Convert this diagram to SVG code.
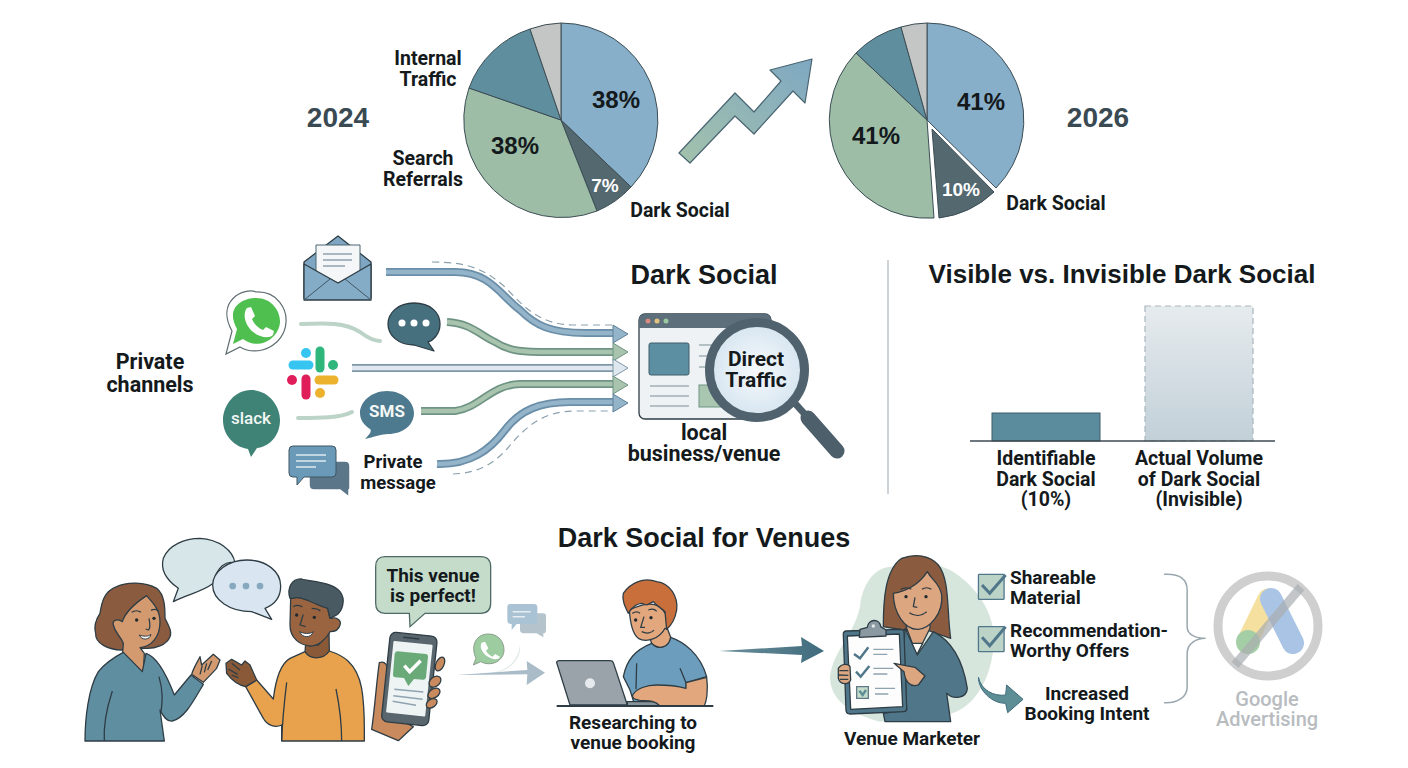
<svg xmlns="http://www.w3.org/2000/svg" width="1408" height="768" viewBox="0 0 1408 768">
<style>
text{font-family:"Roboto","Liberation Sans",sans-serif;font-weight:700;fill:#14191c;text-anchor:middle}
.t{font-family:"Liberation Sans",Arial,sans-serif;font-weight:700;font-size:27px}
.y{font-family:"Liberation Sans",Arial,sans-serif;font-weight:700;font-size:28px;fill:#3a4a52}
.p{font-family:"Liberation Sans",Arial,sans-serif;font-weight:700;font-size:24px}
.l{font-size:19.5px}
.m{font-size:19px}
.ol{stroke:#2e3d45;stroke-width:1.3;stroke-linejoin:round}
.pie{stroke:#3c4d55;stroke-width:1}
.ns *{vector-effect:non-scaling-stroke}
.band{fill:none;stroke-width:8}
.inner{fill:none;stroke-width:4.5}
.dash{fill:none;stroke:#8ba0ad;stroke-width:1.2;stroke-dasharray:7 5}
.faint{fill:none;stroke-width:4;stroke-linecap:round}
.no{fill:none}
.eye{fill:#1f2a30}
</style>
<defs>
<linearGradient id="upG" x1="0" y1="1" x2="1" y2="0"><stop offset="0" stop-color="#a3c2ab"/><stop offset="1" stop-color="#7fa8c2"/></linearGradient>
<linearGradient id="barG" x1="0" y1="0" x2="0" y2="1"><stop offset="0" stop-color="#e6ebee"/><stop offset="1" stop-color="#c2d0d8"/></linearGradient>
<linearGradient id="arrG" x1="0" y1="0" x2="1" y2="0"><stop offset="0" stop-color="#6d8f9c"/><stop offset="1" stop-color="#3f6c7d"/></linearGradient>
<radialGradient id="lens"><stop offset="0" stop-color="#f6f9fc"/><stop offset="1" stop-color="#d6e5f0"/></radialGradient>
</defs>
<rect width="1408" height="768" fill="#fff"/>

<g id="pie-2024">
<path class="pie" fill="#88afc9" d="M561 120L561 23A97 97 0 0 1 631 187Z"/>
<path class="pie" fill="#53686f" d="M561 120L631 187A97 97 0 0 1 597 211Z"/>
<path class="pie" fill="#9dbda6" d="M561 120L597 211A98 98 0 0 1 469 88Z"/>
<path class="pie" fill="#5f8f9f" d="M561 120L469 88A97 97 0 0 1 530 29Z"/>
<path class="pie" fill="#c4c6c6" d="M561 120L530 29A97 97 0 0 1 561 23Z"/>
<text class="y" x="338" y="127">2024</text>
<text class="p" x="616" y="108">38%</text>
<text class="p" x="515" y="154">38%</text>
<text class="p" x="605" y="192" style="fill:#fff;font-size:19px">7%</text>
<text class="l" x="428" y="65">Internal</text><text class="l" x="428" y="86">Traffic</text>
<text class="l" x="423" y="165">Search</text><text class="l" x="423" y="186">Referrals</text>
<text class="l" x="680" y="217">Dark Social</text>
</g>

<g id="growth-arrow">
<path fill="url(#upG)" stroke="#4a6572" stroke-width="1.2" stroke-linejoin="round" d="M679 153L735 93L754 112L781 81L770 70L812 59L805 103L793 91L754 134L735 116L690 163Z"/>
</g>

<g id="pie-2026">
<path class="pie" fill="#88afc9" d="M927 120L927 23A97 97 0 0 1 996 188Z"/>
<path class="pie" fill="#53686f" d="M932 129L994 192A97 97 0 0 1 939 218Z"/>
<path class="pie" fill="#9dbda6" d="M927 120L934 218A98 98 0 0 1 856 53Z"/>
<path class="pie" fill="#5f8f9f" d="M927 120L856 53A97 97 0 0 1 901 27Z"/>
<path class="pie" fill="#c4c6c6" d="M927 120L901 27A97 97 0 0 1 927 23Z"/>
<text class="y" x="1098" y="127">2026</text>
<text class="p" x="981" y="110">41%</text>
<text class="p" x="876" y="144">41%</text>
<text class="p" x="961" y="196" style="fill:#fff;font-size:19px">10%</text>
<text class="l" x="1056" y="210">Dark Social</text>
</g>

<g id="connectors">
<path class="dash" d="M432 262C470 262 485 270 505 287C525 308 540 325 575 325H613"/>
<path class="dash" d="M453 474C480 473 497 462 512 443C528 425 545 411 575 411H613"/>
<path class="band" stroke="#6a8ea8" d="M386 272H455C490 272 500 295 520 310C535 325 550 333 585 333H613"/>
<path class="inner" stroke="#94b4ca" d="M386 272H455C490 272 500 295 520 310C535 325 550 333 585 333H613"/>
<polygon fill="#94b4ca" stroke="#5f8199" points="613,325 628,334 613,343"/>
<path class="band" stroke="#6f9484" d="M447 322C470 323 480 335 495 342C510 352 525 352 550 352H613"/>
<path class="inner" stroke="#a8c4ae" d="M447 322C470 323 480 335 495 342C510 352 525 352 550 352H613"/>
<polygon fill="#a8c4ae" stroke="#6f9484" points="613,343 628,352 613,361"/>
<path class="band" stroke="#7f98a8" d="M352 368H613"/>
<path class="inner" stroke="#dfe8ef" d="M352 368H613"/>
<polygon fill="#dfe8ef" stroke="#7f98a8" points="613,359 628,368 613,377"/>
<path class="band" stroke="#6f9484" d="M421 411H455C480 408 490 385 520 384H613"/>
<path class="inner" stroke="#a8c4ae" d="M421 411H455C480 408 490 385 520 384H613"/>
<polygon fill="#a8c4ae" stroke="#6f9484" points="613,376 628,385 613,394"/>
<path class="band" stroke="#6a8ea8" d="M437 464C470 465 490 450 505 430C520 410 540 402 570 402H613"/>
<path class="inner" stroke="#94b4ca" d="M437 464C470 465 490 450 505 430C520 410 540 402 570 402H613"/>
<polygon fill="#94b4ca" stroke="#5f8199" points="613,394 628,403 613,412"/>
<path class="faint" stroke="#bcd3c7" d="M301 324C325 323 345 322 360 332C368 338 374 341 380 341"/>
<path class="faint" stroke="#bcd3c7" d="M298 418C320 418 340 418 352 412"/>
<path fill="url(#arrG)" d="M719 651L802 646L801 637L824 651L801 663L802 655Z"/>
</g>

<g id="email">
<path class="ol" fill="#7ea6c2" d="M304 262L338 236L371 262V298H304Z"/>
<path fill="#f4f6f7" stroke="#4b6473" stroke-width="1" d="M316 245H360V272L338 283L316 272Z"/>
<path fill="none" stroke="#8fa3b0" stroke-width="1.5" d="M323 254H352M323 260H352M323 266H345"/>
<path class="ol" fill="#85acc7" d="M304 264L338 283L371 264V300H304Z"/>
<path fill="none" stroke="#3f5663" stroke-width="1" d="M304 300L330 279M371 300L345 279"/>
</g>

<g id="whatsapp">
<path fill="#fff" stroke="#5f6d72" stroke-width="1.2" d="M226 354L232 331C215 300 245 287 256 292C278 291 287 310 286 322C285 345 258 358 240 347Z"/>
<path fill="#4fbf4f" d="M233 344L237 329C225 308 242 298 256 298C272 298 280 311 280 322C279 339 258 351 243 339Z"/>
<path fill="#fff" d="M247 308L251 307L255 316L252 319C254 324 258 328 263 330L266 327L274 331L273 335C268 340 256 336 250 329C244 322 243 313 247 308Z"/>
</g>

<g id="dots-bubble">
<path class="ol" fill="#47707f" d="M414 303C431 303 440 313 440 324C440 335 432 341 428 342L434 351L414 345C398 345 388 335 388 324C388 313 398 303 414 303Z"/>
<circle cx="402" cy="323" r="3.5" fill="#fff"/><circle cx="414" cy="323" r="3.5" fill="#fff"/><circle cx="426" cy="323" r="3.5" fill="#fff"/>
</g>

<g id="slack-logo" fill="none" stroke-width="9" stroke-linecap="round">
<path stroke="#2eb67d" d="M320 351V368"/><circle cx="333" cy="365" r="5" fill="#2eb67d" stroke="none"/>
<path stroke="#36c5f0" d="M293 365H309"/><circle cx="306" cy="353" r="5" fill="#36c5f0" stroke="none"/>
<path stroke="#e01e5a" d="M306 379V395"/><circle cx="292" cy="380" r="5" fill="#e01e5a" stroke="none"/>
<path stroke="#ecb22e" d="M319 380H334"/><circle cx="320" cy="393" r="5" fill="#ecb22e" stroke="none"/>
</g>

<g id="slack-bubble">
<path fill="#3f8276" d="M251 390C268 390 280 405 280 420C280 437 268 447 257 448L251 457L248 449C235 447 223 436 223 420C223 405 235 390 251 390Z"/>
<text x="251" y="424" style="fill:#f3f7f5;font-size:17px;font-weight:500">slack</text>
</g>

<g id="sms-bubble">
<path fill="#4d7a8e" d="M387 391C403 391 414 402 414 413C414 425 403 434 388 434C383 434 373 437 365 439C370 434 372 431 370 429C364 425 360 420 360 413C360 402 371 391 387 391Z"/>
<text x="387" y="417" style="fill:#f3f7f5;font-size:17px">SMS</text>
</g>

<g id="private-message">
<path fill="#5a7688" stroke="#fff" stroke-width="1.5" d="M314 461H345Q350 461 350 466V486Q350 490 349 490V497L340 490H314Q309 490 309 485V466Q309 461 314 461Z"/>
<path fill="#6b9ab8" stroke="#3f5663" stroke-width="1" d="M293 446H332Q336 446 336 450V473Q336 477 332 477H304L297 485V477H293Q289 477 289 473V450Q289 446 293 446Z"/>
<path fill="none" stroke="#dfe9ef" stroke-width="1.5" d="M296 455H326M296 461H326M296 467H316"/>
<text x="393" y="468" style="font-size:18.5px">Private</text><text x="398" y="489" style="font-size:18.5px">message</text>
</g>

<g id="browser">
<rect class="ol" x="639" y="314" width="132" height="105" rx="6" fill="#eef2f5"/>
<path fill="#5d6f7b" d="M639 328V320Q639 314 645 314H765Q771 314 771 320V328Z"/>
<circle cx="648" cy="321" r="2.5" fill="#d98a7e"/><circle cx="657" cy="321" r="2.5" fill="#e3c27f"/><circle cx="666" cy="321" r="2.5" fill="#9cc79f"/>
<rect x="649" y="343" width="40" height="32" rx="2" fill="#5d8fa3" stroke="#3e5c69"/>
<rect x="699" y="385" width="26" height="22" fill="#a9c6b1" stroke="#6f9484"/>
<path fill="none" stroke="#a3afb7" stroke-width="1.6" d="M650 386H689M650 396H689M650 406H689M699 345H715M699 356H715M699 367H715"/>
</g>

<g id="magnifier">
<path stroke="#4c5f6b" stroke-width="15" stroke-linecap="round" d="M808 418L837 451"/>
<path stroke="#4c5f6b" stroke-width="7" d="M792 400L810 420"/>
<circle cx="757" cy="370" r="47.5" fill="url(#lens)" stroke="#4f626e" stroke-width="9"/>
<text x="756" y="366" style="font-size:21px">Direct</text><text x="756" y="387" style="font-size:21px">Traffic</text>
</g>

<g id="labels-middle">
<text class="t" x="704" y="284">Dark Social</text>
<text x="150" y="369" style="font-size:21.5px">Private</text><text x="150" y="392" style="font-size:21.5px">channels</text>
<text x="704" y="440" style="font-size:21.5px">local</text><text x="704" y="461" style="font-size:21.5px">business/venue</text>
</g>

<line x1="888" y1="260" x2="888" y2="494" stroke="#bcc4c8" stroke-width="1.5"/>

<g id="bar-chart">
<text class="t" x="1122" y="283" style="font-size:26px">Visible vs. Invisible Dark Social</text>
<rect x="1145" y="306" width="108" height="135" fill="url(#barG)" stroke="#a7b7bf" stroke-width="1.2" stroke-dasharray="6 4"/>
<rect x="992" y="413" width="108" height="28" fill="#5b8c9e" stroke="#3e5c69"/>
<line x1="970" y1="441" x2="1275" y2="441" stroke="#3d4a52" stroke-width="1.5"/>
<text class="l" x="1046" y="465">Identifiable</text><text class="l" x="1046" y="486">Dark Social</text><text class="l" x="1046" y="506">(10%)</text>
<text class="l" x="1199" y="465">Actual Volume</text><text class="l" x="1199" y="486">of Dark Social</text><text class="l" x="1199" y="506">(Invisible)</text>
</g>

<text class="t" x="704" y="547">Dark Social for Venues</text>

<g id="chat-bubbles" class="ns" transform="translate(60 530) scale(.33333)">
<g class="ol">
<path fill="#d7e6e8" d="M340 215L355 175C320 150 300 120 310 85C325 45 375 25 420 25C475 28 520 60 525 100C500 90 470 110 460 160C420 190 385 190 340 215Z"/>
<path fill="#d9e5f0" d="M560 90C620 90 662 125 662 168C662 205 640 225 615 235L635 268L575 245C510 245 458 210 458 165C458 125 505 90 560 90Z"/>
</g>
<circle cx="518" cy="168" r="10" fill="#87a9bf"/><circle cx="558" cy="168" r="10" fill="#87a9bf"/><circle cx="600" cy="168" r="10" fill="#87a9bf"/>
</g>

<g id="woman" class="ns" transform="translate(85 575) scale(.33333)">
<g class="ol">
<path fill="#8a5b3e" d="M110 225C70 225 30 205 32 175C25 150 35 130 45 115C50 85 55 50 95 35C125 20 180 20 215 40C240 60 240 100 240 130C250 150 262 170 255 185C245 210 210 222 180 220Z"/>
<path fill="#d39a70" d="M85 150C80 135 100 130 112 140C120 115 150 85 185 62C205 85 225 105 225 140C225 185 200 215 165 218L178 235L175 295L113 232L115 205C105 180 90 175 85 150Z"/>
<path fill="#5f8ea1" d="M0 498C0 430 10 340 40 290C60 265 90 245 115 232L172 290L183 235C215 245 245 300 268 360L318 300L355 328C330 370 300 430 262 438C245 440 235 425 225 405L238 498Z"/>
<path class="no" d="M82 348C65 400 55 450 58 498M222 305C235 350 232 380 228 410"/>
<path fill="#d39a70" d="M320 298C325 280 335 265 345 245L350 270L385 238L405 255L395 280L355 322Z"/>
<path class="no" d="M352 272L345 298M365 265L358 292M380 258L368 285M192 130C195 145 198 160 190 165L182 162M140 112C148 106 160 106 168 112M198 106C206 102 214 102 220 108"/>
</g>
<circle class="eye" cx="155" cy="135" r="5"/><circle class="eye" cx="207" cy="130" r="5"/>
<path fill="#fff" stroke="#2e3d45" d="M163 180C175 185 190 185 198 178C195 195 170 198 163 180Z"/>
</g>

<g id="man" class="ns" transform="translate(225 575) scale(.33333)">
<g class="ol">
<path fill="#8a5a38" d="M242 205L240 232C255 255 295 255 313 228L312 170L280 210Z"/>
<path fill="#e8a24e" d="M62 335L95 315L145 372C150 330 160 270 195 250L240 230C255 255 295 255 313 228C350 240 395 260 410 340C420 400 418 450 418 498H170V450C150 460 125 450 115 430Z"/>
<path class="no" d="M185 322C178 380 172 440 170 498M333 342C345 400 350 450 350 498"/>
<path fill="#8a5a38" d="M62 335C40 330 20 315 5 295L3 265L20 253L50 270L60 258L75 270L95 315Z"/>
<path class="no" d="M20 265L45 285M10 282L38 298M20 300L40 308"/>
<path fill="#9a6440" d="M197 70C205 60 250 70 308 100L315 130C335 125 350 135 345 150C340 170 320 170 315 170C305 190 280 215 255 213C225 210 195 190 195 150Z"/>
<path fill="#4a5a62" d="M195 70C185 40 200 10 230 12C255 20 320 20 345 50C365 75 350 110 335 120L315 130L308 100C270 90 230 60 205 70Z"/>
<path class="no" d="M235 118L225 150L242 155M205 95C212 90 225 90 232 96M260 100C270 100 280 102 286 108"/>
</g>
<circle class="eye" cx="215" cy="120" r="5"/><circle class="eye" cx="268" cy="127" r="5"/>
<path fill="#fff" stroke="#2e3d45" d="M224 170C235 176 255 178 265 170C258 190 232 190 224 170Z"/>
</g>

<g id="phone" class="ns" transform="translate(60 530) scale(.33333)">
<path class="ol" fill="#c98a5e" d="M935 598C945 530 950 450 958 398C975 392 985 405 982 430L1000 560L1060 590L1015 632Z"/>
<rect x="977" y="312" width="142" height="270" rx="18" fill="#59666e" stroke="#2e3d45" stroke-width="1.3" transform="rotate(6 1048 447)"/>
<rect x="989" y="338" width="118" height="216" rx="3" fill="#eef3f4" transform="rotate(6 1048 447)"/>
<line x1="1030" y1="322" x2="1078" y2="327" stroke="#2e3d45" stroke-width="1.5"/>
<path fill="#6aaa78" d="M1012 364L1098 372Q1105 373 1104 380L1098 442Q1097 450 1089 449L1062 447L1045 468L1032 444L1006 442Q998 441 999 433L1004 372Q1005 364 1012 364Z"/>
<path fill="none" stroke="#fff" stroke-width="3.5" d="M1033 407L1049 425L1082 392"/>
<path fill="none" stroke="#8fa3b0" stroke-width="1.5" d="M1003 478L1090 486M1000 497L1088 508M998 514L1068 526"/>
<g class="ol" fill="#c98a5e">
<ellipse cx="1140" cy="402" rx="12" ry="22" transform="rotate(25 1140 402)"/>
<ellipse cx="1125" cy="455" rx="20" ry="14" transform="rotate(-40 1125 455)"/>
<ellipse cx="1122" cy="490" rx="20" ry="13" transform="rotate(-35 1122 490)"/>
<ellipse cx="1115" cy="520" rx="18" ry="12" transform="rotate(-35 1115 520)"/>
</g>
<path fill="#c5dccb" stroke="#4f6a66" stroke-width="1.3" d="M975 80H1262Q1292 80 1292 110V220Q1292 250 1262 250H1095L1050 290L1048 250H975Q947 250 947 220V110Q947 80 975 80Z"/>
</g>
<text x="433" y="582" style="font-size:19px">This venue</text>
<text x="433" y="602" style="font-size:19px">is perfect!</text>

<g id="share-icons" class="ns" transform="translate(60 530) scale(.33333)">
<path fill="#b5c3cc" d="M1390 250H1450Q1458 250 1458 258V300Q1458 310 1450 310V322L1430 310H1395Q1380 310 1380 300V260Q1380 250 1390 250Z"/>
<path fill="#a9c2d4" d="M1352 222H1422Q1432 222 1432 232V272Q1432 282 1422 282H1370L1355 300V282Q1342 282 1342 272V232Q1342 222 1352 222Z"/>
<path fill="none" stroke="#e6eef3" stroke-width="1.5" d="M1358 245H1412M1358 260H1395"/>
<path fill="#9dcca0" stroke="#8aa08c" stroke-width="1" d="M1240 405L1248 385C1230 345 1250 312 1285 312C1315 312 1332 335 1332 360C1332 392 1295 412 1262 395Z"/>
<path fill="#fff" d="M1265 338L1275 335L1285 355L1278 362C1282 370 1290 376 1298 380L1305 372L1320 380C1315 392 1295 388 1280 378C1265 365 1258 350 1265 338Z"/>
<path fill="#d9e5e2" d="M1380 345C1375 395 1340 425 1280 432C1330 430 1385 400 1380 345Z"/>
<path fill="#a9bcc7" d="M1190 435L1402 420L1400 393L1455 428L1400 465L1402 433Z"/>
</g>

<g id="researcher" class="ns" transform="translate(550 570) scale(.33333)">
<g class="ol">
<path fill="#9aa3aa" d="M20 278Q20 272 28 272H180Q188 272 190 278L232 405H60Z"/>
<path fill="#6d9dbc" d="M220 320C230 270 255 240 305 220C325 240 355 235 362 202C400 215 450 250 470 320L408 338L415 408H255L240 360Z"/>
<path fill="#e2a77d" d="M298 200L305 220C325 240 355 235 362 202L350 170Z"/>
<path class="no" d="M260 280L258 358M390 295L408 338"/>
<path fill="#8a939a" d="M232 395H320Q328 400 325 408H232Z"/>
<path fill="#e2a77d" d="M408 338L470 322C475 360 470 395 462 408H330C310 385 280 395 265 390C255 388 245 385 248 375C260 355 290 345 320 345C350 345 390 350 408 355Z"/>
<path fill="#e2a77d" d="M238 120C300 90 330 100 345 130C350 120 375 130 365 150C355 175 350 180 345 175C330 205 290 220 265 205C245 190 240 150 238 120Z"/>
<path fill="#c96f3b" d="M235 130C225 110 215 90 220 70C240 40 280 20 320 35C360 40 385 80 380 120C375 150 365 165 350 178L345 125C335 115 320 108 310 95L290 105L275 100C265 100 245 110 235 130Z"/>
<path class="no" d="M282 140L272 172L285 172M275 185C290 192 305 190 312 180M247 130C255 125 265 125 270 130M295 120C305 116 315 118 320 124"/>
</g>
<circle class="eye" cx="257" cy="150" r="5"/><circle class="eye" cx="303" cy="143" r="5"/>
<circle cx="120" cy="340" r="15" fill="#e6eaec"/>
<path fill="none" stroke="#2e3d45" stroke-width="1.8" d="M20 408H490"/>
</g>

<g id="marketer-blob" transform="translate(830 550) scale(.33333)">
<path fill="#d7e6dd" d="M0 380C10 300 70 260 90 170C95 110 130 50 185 50C230 40 300 30 360 60C430 100 480 170 490 240C500 330 460 470 350 495L150 515C60 490 0 450 0 380Z"/>
</g>
<g id="marketer" class="ns" transform="translate(830 550) scale(.33333)">
<g class="ol">
<path fill="#8a5b3e" d="M160 230C160 150 165 60 215 25C255 10 300 15 325 45C360 90 350 180 362 265L290 240H220Z"/>
<path fill="#dba680" d="M225 210L230 235L260 315L300 235V205Z"/>
<path fill="#fdfdfd" d="M245 280L260 315L278 280Z"/>
<path fill="#4f7689" d="M225 235L262 315L310 245C370 275 400 340 412 415C410 445 370 450 350 430L362 515H165L160 490L230 480L222 290Z"/>
<path fill="#dba680" d="M190 130C230 125 270 100 292 65C305 90 330 100 335 135C340 190 300 235 265 238C225 240 190 190 190 130Z"/>
<path class="no" d="M255 142L250 170L262 172M238 188C255 200 275 198 290 185M212 118C222 112 236 112 244 118M276 118C284 112 296 112 304 118"/>
<path fill="#4f7689" d="M40 255Q38 245 48 243L212 238Q222 238 222 248L230 475Q230 485 222 485L60 492Q50 492 48 482Z"/>
<path fill="#fdfdfd" d="M52 258L208 252L218 470L62 478Z"/>
<path fill="#8a99a2" d="M88 262L90 238L112 232C115 205 150 205 152 230L168 240V258Z"/>
<path fill="#dba680" d="M25 355C35 340 55 340 60 350L62 390C55 405 30 405 25 385Z"/>
<path fill="#dba680" d="M192 340L255 352L285 378L265 405C240 412 225 395 222 365Z"/>
<path class="no" d="M28 362L55 362M26 375L55 376M30 388L55 388"/>
</g>
<circle cx="130" cy="228" r="5" fill="#e3e8ea"/>
<circle class="eye" cx="228" cy="140" r="5"/><circle class="eye" cx="288" cy="140" r="5"/>
<path fill="none" stroke="#4f7689" stroke-width="2.4" d="M72 312L90 325L115 292M78 365L92 380L118 348"/>
<rect x="80" y="410" width="35" height="35" fill="#c5dccb" stroke="#5f7a86" stroke-width="1.3"/>
<path fill="none" stroke="#5d8e96" stroke-width="2.4" d="M88 422L98 435L108 420"/>
<path fill="none" stroke="#8fa3b0" stroke-width="1.4" d="M130 298H190M130 313H172M130 355H190M130 372H172M135 415H195M135 432H175"/>
</g>

<g id="marketer-extras" class="ns" transform="translate(540 540) scale(.5128 .33333)">
<path fill="#5d8e96" stroke="#3f6c7d" stroke-width="1" d="M855 412C860 450 885 470 908 465L910 435L942 478L912 518L908 490C880 490 855 450 855 412Z"/>
<rect x="855" y="103" width="50" height="75" rx="2" fill="#bcd3c8" stroke="#4f7689" stroke-width="1.3"/>
<path fill="none" stroke="#4f7689" stroke-width="3" d="M862 135L877 160L908 105"/>
<rect x="855" y="260" width="50" height="75" rx="2" fill="#bcd3c8" stroke="#4f7689" stroke-width="1.3"/>
<path fill="none" stroke="#4f7689" stroke-width="3" d="M862 292L877 317L908 260"/>
<path fill="none" stroke="#9aa7ae" stroke-width="1.5" d="M1217 103C1250 100 1262 120 1262 150V260C1262 285 1280 295 1298 295C1280 295 1262 310 1262 340V440C1262 470 1245 490 1217 488"/>
</g>

<g id="venue-labels">
<text class="m" x="633" y="729">Researching to</text><text class="m" x="633" y="749">venue booking</text>
<text class="m" x="912" y="745">Venue Marketer</text>
<text class="m" x="1010" y="584" style="text-anchor:start">Shareable</text><text class="m" x="1010" y="604" style="text-anchor:start">Material</text>
<text class="m" x="1010" y="637" style="text-anchor:start">Recommendation-</text><text class="m" x="1010" y="657" style="text-anchor:start">Worthy Offers</text>
<text class="m" x="1087" y="700">Increased</text><text class="m" x="1087" y="720">Booking Intent</text>
</g>

<g id="google-ads">
<circle cx="1268" cy="626" r="50" fill="none" stroke="#cfcfcf" stroke-width="9"/>
<path stroke="#f5e0a0" stroke-width="21" stroke-linecap="round" d="M1268 599L1247 642"/>
<path stroke="#a9c4e4" stroke-width="22" stroke-linecap="round" d="M1271 599L1293 643"/>
<circle cx="1248" cy="642" r="12" fill="#a4cfa6"/>
<line x1="1301" y1="587" x2="1235" y2="665" stroke="#a9aeb0" stroke-opacity=".7" stroke-width="9"/>
<text x="1267" y="706" style="font-size:20px;fill:#b8bcbf;font-weight:500">Google</text>
<text x="1267" y="726" style="font-size:20px;fill:#b8bcbf;font-weight:500">Advertising</text>
</g>
</svg>
